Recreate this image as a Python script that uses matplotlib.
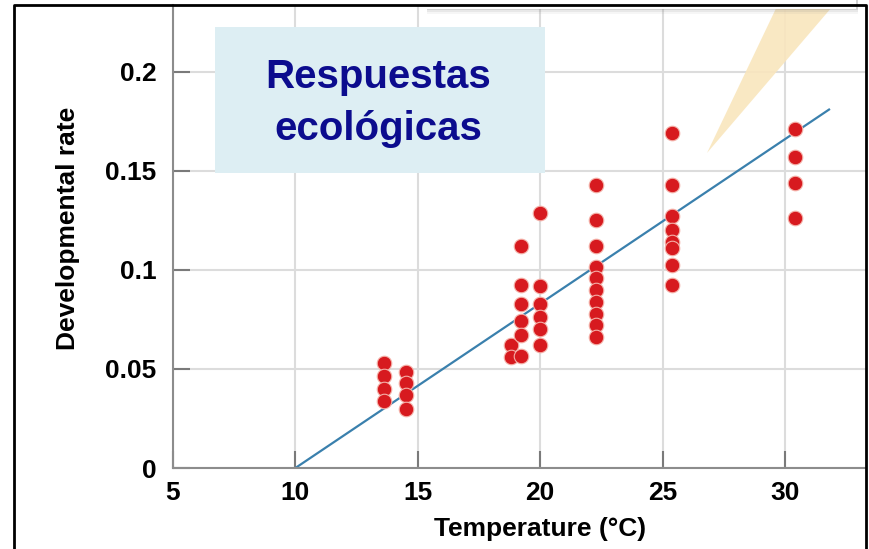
import matplotlib
matplotlib.use("Agg")
import matplotlib.pyplot as plt
from matplotlib.patches import Rectangle, Polygon
from matplotlib.lines import Line2D

plt.rcParams['font.family'] = ['Liberation Sans', 'DejaVu Sans']
plt.rcParams['font.weight'] = 'bold'

# developmental rate measured at each rearing temperature
temperature = [13.6, 13.6, 13.6, 13.6,
               14.5, 14.5, 14.5, 14.5,
               18.8, 18.8,
               19.2, 19.2, 19.2, 19.2, 19.2, 19.2,
               20.0, 20.0, 20.0, 20.0, 20.0, 20.0,
               22.3, 22.3, 22.3, 22.3, 22.3, 22.3, 22.3, 22.3, 22.3, 22.3,
               25.4, 25.4, 25.4, 25.4, 25.4, 25.4, 25.4, 25.4,
               30.4, 30.4, 30.4, 30.4]
rate = [0.053, 0.0465, 0.040, 0.034,
        0.0485, 0.043, 0.037, 0.030,
        0.062, 0.056,
        0.112, 0.0924, 0.0828, 0.0742, 0.067, 0.0566,
        0.129, 0.092, 0.083, 0.076, 0.070, 0.062,
        0.143, 0.125, 0.112, 0.1015, 0.096, 0.090, 0.084, 0.078, 0.072, 0.066,
        0.169, 0.143, 0.127, 0.120, 0.114, 0.111, 0.1025, 0.0924,
        0.171, 0.157, 0.144, 0.126]

# fitted line, threshold at 10 degrees
fit_x = [10.0, 31.8]
fit_y = [0.0, 0.181]

xticks = [5, 10, 15, 20, 25, 30]
yticks = [0, 0.05, 0.1, 0.15, 0.2]
ytick_labels = ['0', '0.05', '0.1', '0.15', '0.2']

W, H = 870, 549


def fx(px):
    return px / W


def fy(py):
    return 1 - py / H


fig = plt.figure(figsize=(W / 100, H / 100), dpi=100)
ax = fig.add_axes([fx(173), fy(468), fx(866 - 173), (468 - 5) / H])

ax.set_xlim(5, 33.31)
ax.set_ylim(0, 0.2338)
ax.set_xticks(xticks)
ax.set_yticks(yticks)
ax.set_yticklabels(ytick_labels)
ax.grid(True, color='#dcdcdc', linewidth=1.5, zorder=0)
ax.set_axisbelow(True)

for side in ['top', 'right']:
    ax.spines[side].set_visible(False)
for side in ['left', 'bottom']:
    ax.spines[side].set_color('#8c8c8c')
    ax.spines[side].set_linewidth(1.5)

ax.tick_params(axis='both', direction='in', length=12, width=1.5,
               color='#7a7a7a', labelsize=19)
ax.tick_params(axis='y', pad=12)
ax.tick_params(axis='x', pad=9)

ax.plot(fit_x, fit_y, color='#3a80ad', linewidth=1.6, zorder=2)
ax.scatter(temperature, rate, s=110, color='#d71a1f', edgecolors='#f4b0a8',
           linewidths=0.8, zorder=3)

fig.text(fx(540), fy(529), 'Temperature (°C)', ha='center', va='center',
         fontsize=19)
fig.text(fx(68), fy(228), 'Developmental rate', ha='center', va='center',
         rotation=90, fontsize=19)

# title box
fig.patches.append(Rectangle((fx(215), fy(173)), fx(330), 146 / H,
                             transform=fig.transFigure, facecolor='#ddeef3',
                             edgecolor='none', zorder=4))
fig.text(fx(378), fy(103), 'Respuestas\necológicas', ha='center', va='center',
         fontsize=29, color='#0c0c8e', linespacing=1.5, zorder=5)

# speech bubble tail and box edge at the top
fig.patches.append(Polygon([(fx(780), fy(0)), (fx(838), fy(0)), (fx(707), fy(153))],
                           closed=True, transform=fig.transFigure,
                           facecolor='#f9e6bd', edgecolor='none', alpha=0.9,
                           zorder=4))
for off, a in [(14, 0.06), (12, 0.1), (10, 0.18)]:
    fig.patches.append(Rectangle((fx(427), fy(off)), fx(431), off / H,
                                 transform=fig.transFigure, facecolor='#707070',
                                 edgecolor='none', alpha=a, zorder=4))
fig.patches.append(Rectangle((fx(427), fy(9)), fx(429), 9 / H,
                             transform=fig.transFigure, facecolor='white',
                             edgecolor='none', zorder=4))

# outer frame
fig.lines.append(Line2D([fx(14), fx(14), fx(866), fx(866)],
                        [fy(560), fy(5), fy(5), fy(560)],
                        transform=fig.transFigure, color='black',
                        linewidth=2, zorder=6))

fig.savefig('out.png', dpi=100)
